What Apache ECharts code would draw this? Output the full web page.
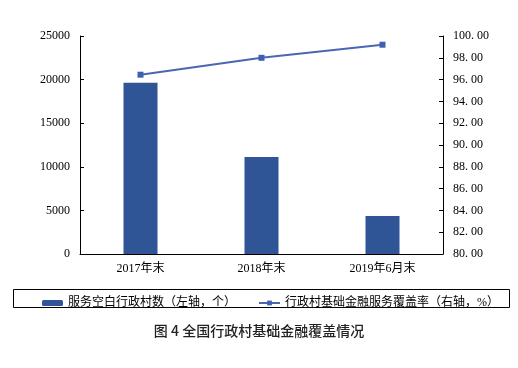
<!DOCTYPE html>
<html>
<head>
<meta charset="utf-8">
<script src="https://cdn.jsdelivr.net/npm/echarts@6/dist/echarts.min.js"></script>
<style>
  html, body { margin: 0; padding: 0; background: #fff; }
  #main { width: 518px; height: 368px; }
</style>
</head>
<body>
<div id="main"></div>
<script>
  var categories = ['2017年末', '2018年末', '2019年6月末'];
  var villages = [19650, 11120, 4360];
  var coverage = [96.45, 98.0, 99.2];

  var serif = '"Liberation Serif", "Noto Sans CJK SC", serif';
  var chart = echarts.init(document.getElementById('main'));

  var option = {
    animation: false,
    title: {
      text: '图 4 全国行政村基础金融覆盖情况',
      left: 'center',
      top: 319,
      textStyle: { fontFamily: '"Noto Sans CJK SC"', fontSize: 14, fontWeight: 500, color: '#222' }
    },
    graphic: [{
      type: 'rect',
      shape: { x: 13.5, y: 289.5, width: 496, height: 18 },
      style: { fill: 'none', stroke: '#000', lineWidth: 1 }
    }],
    legend: {
      left: 37,
      top: 292,
      itemWidth: 21,
      itemHeight: 6,
      itemGap: 22,
      textStyle: { fontFamily: serif, fontSize: 12, color: '#000' },
      data: ['服务空白行政村数（左轴，个）', '行政村基础金融服务覆盖率（右轴，%）']
    },
    grid: { left: 80, right: 75, top: 36, bottom: 114 },
    xAxis: {
      type: 'category',
      data: categories,
      axisLine: { lineStyle: { color: '#000' } },
      axisTick: { inside: true, length: 4, lineStyle: { color: '#000' } },
      axisLabel: { fontFamily: serif, fontSize: 12, color: '#000', margin: 9 }
    },
    yAxis: [{
      type: 'value',
      min: 0,
      max: 25000,
      interval: 5000,
      axisLine: { show: true, lineStyle: { color: '#000' } },
      axisTick: { show: true, inside: true, length: 4, lineStyle: { color: '#000' } },
      axisLabel: {
        fontFamily: serif, fontSize: 12, color: '#000', margin: 10,
        formatter: function (v) { return String(v); }
      },
      splitLine: { show: false }
    }, {
      type: 'value',
      min: 80,
      max: 100,
      interval: 2,
      position: 'right',
      axisLine: { show: true, lineStyle: { color: '#000' } },
      axisTick: { show: true, inside: true, length: 4, lineStyle: { color: '#000' } },
      axisLabel: {
        fontFamily: serif, fontSize: 12, color: '#000', margin: 10,
        formatter: function (v) { return v.toFixed(2).replace('.', '. '); }
      },
      splitLine: { show: false }
    }],
    series: [{
      name: '服务空白行政村数（左轴，个）',
      type: 'bar',
      data: villages,
      barWidth: 34,
      itemStyle: { color: '#2f5597' }
    }, {
      name: '行政村基础金融服务覆盖率（右轴，%）',
      type: 'line',
      yAxisIndex: 1,
      data: coverage,
      symbol: 'rect',
      symbolSize: 6,
      lineStyle: { color: '#4a67b2', width: 2 },
      itemStyle: { color: '#3f5fb0' }
    }]
  };

  chart.setOption(option);
</script>
</body>
</html>
